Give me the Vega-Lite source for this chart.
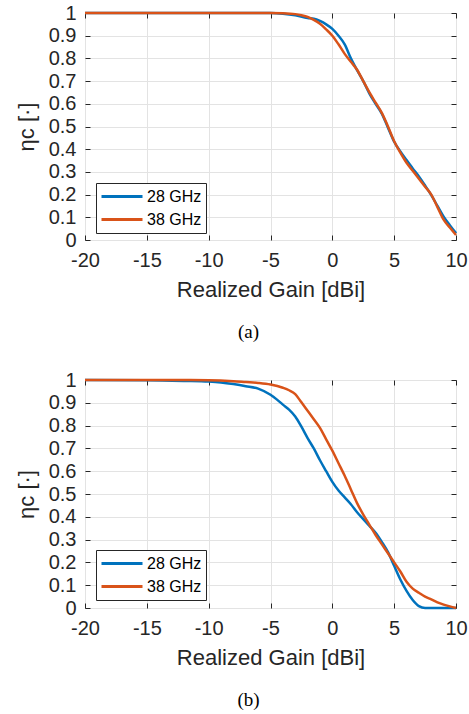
{
  "$schema": "https://vega.github.io/schema/vega-lite/v6.json",
  "padding": {"left": 14, "top": 2, "right": 8, "bottom": 4},
  "background": "white",
  "spacing": 26,
  "config": {
    "view": {"stroke": "#262626", "strokeWidth": 1},
    "axis": {
      "labelFont": "Liberation Sans",
      "labelFontSize": 20,
      "labelColor": "#262626",
      "titleFont": "Liberation Sans",
      "titleFontSize": 22,
      "titleFontWeight": "normal",
      "titleColor": "#262626",
      "gridColor": "#e3e3e3",
      "gridWidth": 1,
      "gridOpacity": 1,
      "tickColor": "#262626",
      "tickSize": -5,
      "domain": false
    },
    "legend": {
      "orient": "none",
      "legendX": 11,
      "legendY": 170,
      "symbolType": "stroke",
      "symbolSize": 1681,
      "symbolStrokeWidth": 3,
      "labelFont": "Liberation Sans",
      "labelFontSize": 16,
      "labelColor": "#000000",
      "labelOffset": 3,
      "strokeColor": "#262626",
      "fillColor": "white",
      "padding": 4,
      "clipHeight": 19,
      "rowPadding": 4,
      "title": null
    }
  },
  "datasets": {
    "a": [
      {"series": "28 GHz", "gain": -20, "eta": 1},
      {"series": "28 GHz", "gain": -15, "eta": 1},
      {"series": "28 GHz", "gain": -10, "eta": 1},
      {"series": "28 GHz", "gain": -5, "eta": 1},
      {"series": "28 GHz", "gain": -4, "eta": 0.997},
      {"series": "28 GHz", "gain": -3, "eta": 0.99},
      {"series": "28 GHz", "gain": -2, "eta": 0.978},
      {"series": "28 GHz", "gain": -1.5, "eta": 0.975},
      {"series": "28 GHz", "gain": -1, "eta": 0.965},
      {"series": "28 GHz", "gain": -0.5, "eta": 0.95},
      {"series": "28 GHz", "gain": 0, "eta": 0.93},
      {"series": "28 GHz", "gain": 0.5, "eta": 0.9},
      {"series": "28 GHz", "gain": 1, "eta": 0.862},
      {"series": "28 GHz", "gain": 1.5, "eta": 0.8},
      {"series": "28 GHz", "gain": 2, "eta": 0.748},
      {"series": "28 GHz", "gain": 2.5, "eta": 0.7},
      {"series": "28 GHz", "gain": 3, "eta": 0.645},
      {"series": "28 GHz", "gain": 3.5, "eta": 0.6},
      {"series": "28 GHz", "gain": 4, "eta": 0.557},
      {"series": "28 GHz", "gain": 4.5, "eta": 0.495},
      {"series": "28 GHz", "gain": 5, "eta": 0.433},
      {"series": "28 GHz", "gain": 5.5, "eta": 0.39},
      {"series": "28 GHz", "gain": 6, "eta": 0.352},
      {"series": "28 GHz", "gain": 6.5, "eta": 0.315},
      {"series": "28 GHz", "gain": 7, "eta": 0.28},
      {"series": "28 GHz", "gain": 7.5, "eta": 0.24},
      {"series": "28 GHz", "gain": 8, "eta": 0.198},
      {"series": "28 GHz", "gain": 8.5, "eta": 0.15},
      {"series": "28 GHz", "gain": 9, "eta": 0.103},
      {"series": "28 GHz", "gain": 9.5, "eta": 0.065},
      {"series": "28 GHz", "gain": 10, "eta": 0.03},
      {"series": "38 GHz", "gain": -20, "eta": 1},
      {"series": "38 GHz", "gain": -15, "eta": 1},
      {"series": "38 GHz", "gain": -10, "eta": 1},
      {"series": "38 GHz", "gain": -5, "eta": 1},
      {"series": "38 GHz", "gain": -4, "eta": 0.999},
      {"series": "38 GHz", "gain": -3, "eta": 0.995},
      {"series": "38 GHz", "gain": -2.5, "eta": 0.99},
      {"series": "38 GHz", "gain": -2, "eta": 0.983},
      {"series": "38 GHz", "gain": -1.5, "eta": 0.97},
      {"series": "38 GHz", "gain": -1, "eta": 0.953},
      {"series": "38 GHz", "gain": -0.5, "eta": 0.928},
      {"series": "38 GHz", "gain": 0, "eta": 0.9},
      {"series": "38 GHz", "gain": 0.5, "eta": 0.862},
      {"series": "38 GHz", "gain": 1, "eta": 0.82},
      {"series": "38 GHz", "gain": 1.5, "eta": 0.785},
      {"series": "38 GHz", "gain": 2, "eta": 0.75},
      {"series": "38 GHz", "gain": 2.5, "eta": 0.7},
      {"series": "38 GHz", "gain": 3, "eta": 0.65},
      {"series": "38 GHz", "gain": 3.5, "eta": 0.605},
      {"series": "38 GHz", "gain": 4, "eta": 0.56},
      {"series": "38 GHz", "gain": 4.5, "eta": 0.5},
      {"series": "38 GHz", "gain": 5, "eta": 0.435},
      {"series": "38 GHz", "gain": 5.5, "eta": 0.385},
      {"series": "38 GHz", "gain": 6, "eta": 0.34},
      {"series": "38 GHz", "gain": 6.5, "eta": 0.305},
      {"series": "38 GHz", "gain": 7, "eta": 0.27},
      {"series": "38 GHz", "gain": 7.5, "eta": 0.235},
      {"series": "38 GHz", "gain": 8, "eta": 0.2},
      {"series": "38 GHz", "gain": 8.5, "eta": 0.145},
      {"series": "38 GHz", "gain": 9, "eta": 0.09},
      {"series": "38 GHz", "gain": 9.5, "eta": 0.055},
      {"series": "38 GHz", "gain": 10, "eta": 0.022}
    ],
    "b": [
      {"series": "28 GHz", "gain": -20, "eta": 1},
      {"series": "28 GHz", "gain": -15, "eta": 0.999},
      {"series": "28 GHz", "gain": -12, "eta": 0.996},
      {"series": "28 GHz", "gain": -10, "eta": 0.993},
      {"series": "28 GHz", "gain": -9, "eta": 0.989},
      {"series": "28 GHz", "gain": -8, "eta": 0.982},
      {"series": "28 GHz", "gain": -7, "eta": 0.973},
      {"series": "28 GHz", "gain": -6, "eta": 0.962},
      {"series": "28 GHz", "gain": -5, "eta": 0.935},
      {"series": "28 GHz", "gain": -4.5, "eta": 0.915},
      {"series": "28 GHz", "gain": -4, "eta": 0.892},
      {"series": "28 GHz", "gain": -3.5, "eta": 0.87},
      {"series": "28 GHz", "gain": -3, "eta": 0.84},
      {"series": "28 GHz", "gain": -2.5, "eta": 0.795},
      {"series": "28 GHz", "gain": -2, "eta": 0.745},
      {"series": "28 GHz", "gain": -1.5, "eta": 0.7},
      {"series": "28 GHz", "gain": -1, "eta": 0.648},
      {"series": "28 GHz", "gain": -0.5, "eta": 0.6},
      {"series": "28 GHz", "gain": 0, "eta": 0.553},
      {"series": "28 GHz", "gain": 0.5, "eta": 0.515},
      {"series": "28 GHz", "gain": 1, "eta": 0.485},
      {"series": "28 GHz", "gain": 1.5, "eta": 0.455},
      {"series": "28 GHz", "gain": 2, "eta": 0.42},
      {"series": "28 GHz", "gain": 2.5, "eta": 0.39},
      {"series": "28 GHz", "gain": 3, "eta": 0.36},
      {"series": "28 GHz", "gain": 3.5, "eta": 0.33},
      {"series": "28 GHz", "gain": 4, "eta": 0.29},
      {"series": "28 GHz", "gain": 4.5, "eta": 0.245},
      {"series": "28 GHz", "gain": 5, "eta": 0.185},
      {"series": "28 GHz", "gain": 5.5, "eta": 0.125},
      {"series": "28 GHz", "gain": 6, "eta": 0.075},
      {"series": "28 GHz", "gain": 6.5, "eta": 0.035},
      {"series": "28 GHz", "gain": 7, "eta": 0.008},
      {"series": "28 GHz", "gain": 7.5, "eta": 0},
      {"series": "28 GHz", "gain": 8, "eta": 0},
      {"series": "28 GHz", "gain": 9, "eta": 0},
      {"series": "28 GHz", "gain": 10, "eta": 0},
      {"series": "38 GHz", "gain": -20, "eta": 1},
      {"series": "38 GHz", "gain": -15, "eta": 1},
      {"series": "38 GHz", "gain": -10, "eta": 0.999},
      {"series": "38 GHz", "gain": -8, "eta": 0.995},
      {"series": "38 GHz", "gain": -7, "eta": 0.991},
      {"series": "38 GHz", "gain": -6, "eta": 0.987},
      {"series": "38 GHz", "gain": -5, "eta": 0.98},
      {"series": "38 GHz", "gain": -4, "eta": 0.966},
      {"series": "38 GHz", "gain": -3.5, "eta": 0.955},
      {"series": "38 GHz", "gain": -3, "eta": 0.938},
      {"series": "38 GHz", "gain": -2.5, "eta": 0.902},
      {"series": "38 GHz", "gain": -2, "eta": 0.865},
      {"series": "38 GHz", "gain": -1.5, "eta": 0.828},
      {"series": "38 GHz", "gain": -1, "eta": 0.79},
      {"series": "38 GHz", "gain": -0.5, "eta": 0.74},
      {"series": "38 GHz", "gain": 0, "eta": 0.69},
      {"series": "38 GHz", "gain": 0.5, "eta": 0.635},
      {"series": "38 GHz", "gain": 1, "eta": 0.58},
      {"series": "38 GHz", "gain": 1.5, "eta": 0.52},
      {"series": "38 GHz", "gain": 2, "eta": 0.46},
      {"series": "38 GHz", "gain": 2.5, "eta": 0.41},
      {"series": "38 GHz", "gain": 3, "eta": 0.365},
      {"series": "38 GHz", "gain": 3.5, "eta": 0.32},
      {"series": "38 GHz", "gain": 4, "eta": 0.28},
      {"series": "38 GHz", "gain": 4.5, "eta": 0.24},
      {"series": "38 GHz", "gain": 5, "eta": 0.2},
      {"series": "38 GHz", "gain": 5.5, "eta": 0.16},
      {"series": "38 GHz", "gain": 6, "eta": 0.115},
      {"series": "38 GHz", "gain": 6.5, "eta": 0.085},
      {"series": "38 GHz", "gain": 7, "eta": 0.067},
      {"series": "38 GHz", "gain": 7.5, "eta": 0.05},
      {"series": "38 GHz", "gain": 8, "eta": 0.038},
      {"series": "38 GHz", "gain": 8.5, "eta": 0.025},
      {"series": "38 GHz", "gain": 9, "eta": 0.015},
      {"series": "38 GHz", "gain": 9.5, "eta": 0.007},
      {"series": "38 GHz", "gain": 10, "eta": 0}
    ]
  },
  "resolve": {"scale": {"color": "independent"}},
  "vconcat": [
    {
      "width": 371,
      "height": 227,
      "data": {"name": "a"},
      "title": {"text": "(a)", "orient": "bottom", "font": "Liberation Serif", "fontSize": 19, "fontWeight": "normal", "color": "#000000", "dx": -22, "offset": 23},
      "resolve": {"axis": {"x": "independent", "y": "independent"}},
      "layer": [
        {
          "mark": {"type": "line", "strokeWidth": 2.5, "interpolate": "monotone"},
          "encoding": {
            "x": {"field": "gain", "type": "quantitative", "scale": {"domain": [-20, 10], "nice": false},
              "axis": {"values": [-20, -15, -10, -5, 0, 5, 10], "labelExpr": "'' + datum.value", "labelPadding": 15, "titlePadding": 9, "labelFlush": false},
              "title": "Realized Gain [dBi]"},
            "y": {"field": "eta", "type": "quantitative", "scale": {"domain": [0, 1], "nice": false},
              "axis": {"values": [0, 0.1, 0.2, 0.3, 0.4, 0.5, 0.6, 0.7, 0.8, 0.9, 1], "labelExpr": "'' + datum.value", "labelPadding": 14, "titlePadding": 10, "labelFlush": false},
              "title": "ηc [·]"},
            "color": {"field": "series", "type": "nominal", "scale": {"domain": ["28 GHz", "38 GHz"], "range": ["#0072BD", "#D95319"]}}
          }
        },
        {
          "mark": {"type": "point", "opacity": 0},
          "encoding": {
            "x": {"field": "gain", "type": "quantitative", "axis": {"orient": "top", "values": [-20, -15, -10, -5, 0, 5, 10], "labels": false, "grid": false, "title": null}},
            "y": {"field": "eta", "type": "quantitative", "axis": {"orient": "right", "values": [0, 0.1, 0.2, 0.3, 0.4, 0.5, 0.6, 0.7, 0.8, 0.9, 1], "labels": false, "grid": false, "title": null}}
          }
        }
      ]
    },
    {
      "width": 371,
      "height": 228,
      "data": {"name": "b"},
      "title": {"text": "(b)", "orient": "bottom", "font": "Liberation Serif", "fontSize": 19, "fontWeight": "normal", "color": "#000000", "dx": -22, "offset": 23},
      "resolve": {"axis": {"x": "independent", "y": "independent"}},
      "layer": [
        {
          "mark": {"type": "line", "strokeWidth": 2.5, "interpolate": "monotone"},
          "encoding": {
            "x": {"field": "gain", "type": "quantitative", "scale": {"domain": [-20, 10], "nice": false},
              "axis": {"values": [-20, -15, -10, -5, 0, 5, 10], "labelExpr": "'' + datum.value", "labelPadding": 15, "titlePadding": 9, "labelFlush": false},
              "title": "Realized Gain [dBi]"},
            "y": {"field": "eta", "type": "quantitative", "scale": {"domain": [0, 1], "nice": false},
              "axis": {"values": [0, 0.1, 0.2, 0.3, 0.4, 0.5, 0.6, 0.7, 0.8, 0.9, 1], "labelExpr": "'' + datum.value", "labelPadding": 14, "titlePadding": 10, "labelFlush": false},
              "title": "ηc [·]"},
            "color": {"field": "series", "type": "nominal", "scale": {"domain": ["28 GHz", "38 GHz"], "range": ["#0072BD", "#D95319"]}}
          }
        },
        {
          "mark": {"type": "point", "opacity": 0},
          "encoding": {
            "x": {"field": "gain", "type": "quantitative", "axis": {"orient": "top", "values": [-20, -15, -10, -5, 0, 5, 10], "labels": false, "grid": false, "title": null}},
            "y": {"field": "eta", "type": "quantitative", "axis": {"orient": "right", "values": [0, 0.1, 0.2, 0.3, 0.4, 0.5, 0.6, 0.7, 0.8, 0.9, 1], "labels": false, "grid": false, "title": null}}
          }
        }
      ]
    }
  ]
}
